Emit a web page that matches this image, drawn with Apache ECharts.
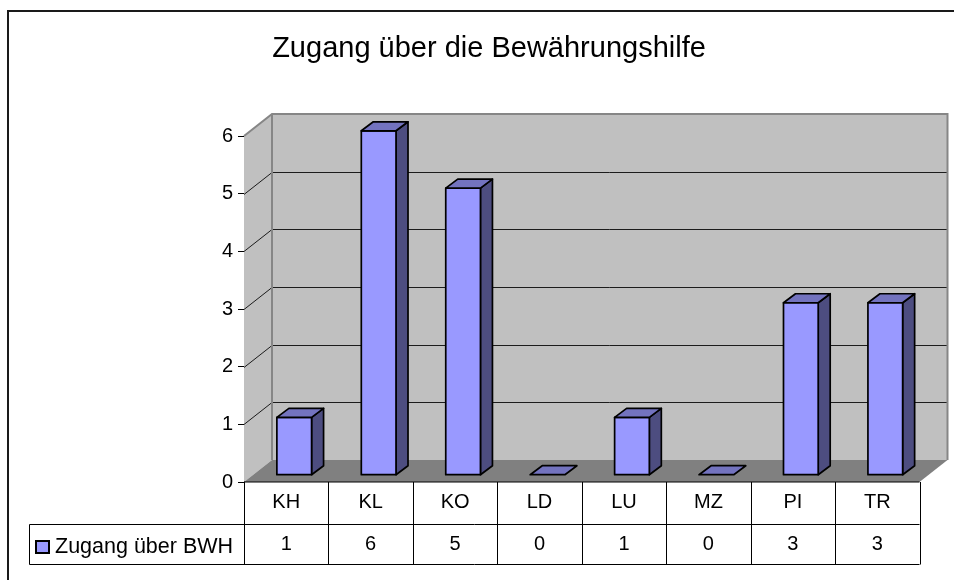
<!DOCTYPE html>
<html><head><meta charset="utf-8">
<style>html,body{margin:0;padding:0;background:#fff}#c{width:954px;height:580px}</style>
<script src="https://cdn.jsdelivr.net/npm/echarts@6/dist/echarts.min.js"></script>
</head><body><div id="c"></div>
<script>
const categories = ['KH','KL','KO','LD','LU','MZ','PI','TR'];
const values = [1,6,5,0,1,0,3,3];
const seriesName = 'Zugang über BWH';
const chartTitle = 'Zugang über die Bewährungshilfe';
const yTicks = [0,1,2,3,4,5,6];

const FONT = '"Liberation Sans", Arial, sans-serif';
const DX = 28, DY = 22;            // wall depth
const BX = 8, BY = 7.3;            // bar position within the floor depth
const BW = 34.7, DBX = 12, DBY = 9; // bar width and depth
const BAR_SCALE = 0.994;           // bars sit slightly further back than the axis plane
const ROW1 = 524.5, ROW2 = 564.5, TABLE_LEFT = 29.5;

const chart = echarts.init(document.getElementById('c'), null, {renderer:'canvas'});

function renderWalls(params, api) {
  const cs = params.coordSys;
  const x0 = cs.x, x1 = cs.x + cs.width;
  const y0 = api.coord([0,0])[1], y6 = api.coord([0,6])[1];
  const ch = [];
  ch.push({type:'polygon',shape:{points:[[x0,y6],[x0+DX,y6-DY],[x0+DX,y0-DY],[x0,y0]]},style:{fill:'#c0c0c0',stroke:null}});
  ch.push({type:'rect',shape:{x:x0+DX,y:y6-DY,width:cs.width,height:y0-y6},style:{fill:'#c0c0c0',stroke:null}});
  ch.push({type:'polygon',shape:{points:[[x0,y0],[x0+DX,y0-DY],[x1+DX,y0-DY],[x1,y0]]},style:{fill:'#808080',stroke:null}});
  yTicks.slice(1,-1).forEach(v=>{
    const y = Math.round(api.coord([0,v])[1]) + 0.5;
    ch.push({type:'polyline',shape:{points:[[x0,y],[x0+DX,y-DY],[x1+DX,y-DY]]},style:{fill:null,stroke:'#1c1c1c',lineWidth:1}});
  });
  ch.push({type:'polyline',shape:{points:[[x0,y6],[x0+DX,y6-DY],[x1+DX,y6-DY],[x1+DX,y0-DY]]},style:{fill:null,stroke:'#868686',lineWidth:2}});
  ch.push({type:'line',shape:{x1:x0+DX,y1:y6-DY,x2:x0+DX,y2:y0-DY},style:{stroke:'#868686',lineWidth:2}});
  return {type:'group',children:ch};
}

function renderTable(params, api) {
  const cs = params.coordSys;
  const x0 = cs.x, x1 = cs.x + cs.width, y0 = api.coord([0,0])[1];
  const line = (a,b,c,d)=>({type:'line',shape:{x1:a,y1:b,x2:c,y2:d},style:{stroke:'#000',lineWidth:1}});
  const ch = [line(TABLE_LEFT,ROW1,x1,ROW1),line(TABLE_LEFT,ROW2,x1,ROW2),line(TABLE_LEFT,ROW1,TABLE_LEFT,ROW2),line(x0,y0,x1,y0)];
  categories.forEach((c,i)=>{
    const x = Math.round(x0 + cs.width*i/categories.length)+0.5;
    ch.push(line(x,y0,x,ROW2));
  });
  ch.push(line(Math.round(x1)+0.5,y0,Math.round(x1)+0.5,ROW2));
  return {type:'group',children:ch};
}

function renderBar(params, api) {
  const v = api.value(1);
  const base = api.coord([api.value(0),0]);
  const top = api.coord([api.value(0),v]);
  const xl = base[0] + BX - BW/2, xr = xl + BW;
  const yb = base[1] - BY, yt = yb - (base[1]-top[1])*BAR_SCALE;
  const s = {stroke:'#000',lineWidth:1.7,lineJoin:'round'};
  const ch = [];
  if (v > 0) {
    ch.push({type:'polygon',shape:{points:[[xr,yt],[xr+DBX,yt-DBY],[xr+DBX,yb-DBY],[xr,yb]]},style:{...s,fill:'#4d4d80'}});
    ch.push({type:'rect',shape:{x:xl,y:yt,width:BW,height:yb-yt},style:{...s,fill:'#9999ff'}});
  }
  ch.push({type:'polygon',shape:{points:[[xl,yt],[xl+DBX,yt-DBY],[xr+DBX,yt-DBY],[xr,yt]]},style:{...s,fill:'#7373bf'}});
  ch.push({type:'text',style:{text:String(v),x:base[0],y:(ROW1+ROW2)/2,align:'center',verticalAlign:'middle',fontFamily:FONT,fontSize:20,fill:'#000'}});
  return {type:'group',children:ch};
}

chart.setOption({
  animation:false,
  backgroundColor:'#fff',
  title:{text:chartTitle,left:484,textAlign:'center',top:29,textStyle:{fontFamily:FONT,fontSize:29,fontWeight:'normal',color:'#000'}},
  legend:{data:[seriesName],left:35,top:536,itemWidth:13,itemHeight:12,itemGap:6,icon:'rect',
    textStyle:{fontFamily:FONT,fontSize:21.5,color:'#000',padding:[0,0,0,1]},padding:0},
  grid:{left:244,right:34.5,top:136,bottom:98,containLabel:false},
  xAxis:{type:'category',data:categories,axisLine:{show:false},axisTick:{show:false},
    axisLabel:{fontFamily:FONT,fontSize:20,color:'#000',margin:10}},
  yAxis:{type:'value',min:0,max:6,interval:1,splitLine:{show:false},
    axisLine:{show:true,lineStyle:{color:'#000',width:1}},
    axisTick:{show:true,length:6,lineStyle:{color:'#000',width:1}},
    axisLabel:{fontFamily:FONT,fontSize:20,color:'#000',margin:11}},
  series:[
    {type:'custom',name:'Wände',z:1,silent:true,clip:false,renderItem:renderWalls,data:[[0,0]]},
    {type:'custom',name:'Tabelle',z:1,silent:true,clip:false,renderItem:renderTable,data:[[0,0]]},
    {type:'custom',name:seriesName,z:3,clip:false,renderItem:renderBar,
      itemStyle:{color:'#9999ff',borderColor:'#000',borderWidth:1.5},
      encode:{x:0,y:1},data:values.map((v,i)=>[i,v])}
  ],
  graphic:[{type:'polyline',silent:true,z:10,shape:{points:[[954,11],[8,11],[8,580]]},style:{fill:null,stroke:'#1a1a1a',lineWidth:2}}]
});
</script></body></html>
